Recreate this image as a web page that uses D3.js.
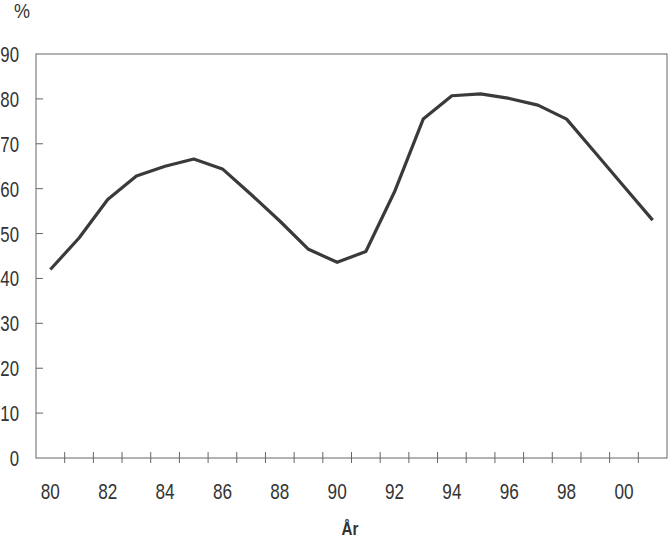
<!DOCTYPE html>
<html><head><meta charset="utf-8">
<script src="https://cdn.jsdelivr.net/npm/d3@7"></script>
<style>
body{margin:0;background:#fff;}
text{font-family:"Liberation Sans",Arial,sans-serif;fill:#333;}
</style></head>
<body><svg id="c" width="669" height="540"></svg>
<script>
const years = ["80","81","82","83","84","85","86","87","88","89","90","91","92","93","94","95","96","97","98","99","00","01"];
const values = [42,49,57.6,62.8,65,66.6,64.4,58.7,52.8,46.5,43.6,46,59.3,75.5,80.7,81.1,80.1,78.6,75.5,68,60.5,53];
const xLabels = ["80","82","84","86","88","90","92","94","96","98","00"];
const yTicks = [0,10,20,30,40,50,60,70,80,90];

const svg = d3.select("#c");
const L=36,R=667,T=54,B=458;
const SX=0.78;
const x = d3.scaleBand().domain(years).range([L,R]).padding(0);
const y = d3.scaleLinear().domain([0,90]).range([B,T]);

// frame
svg.append("rect").attr("x",L).attr("y",T).attr("width",R-L).attr("height",B-T)
  .attr("fill","none").attr("stroke","#666").attr("stroke-width",1);

// y labels (condensed)
svg.append("g").selectAll("g").data(yTicks).join("g")
  .attr("transform",d=>`translate(19,${y(d)+8}) scale(${SX},1)`)
  .append("text").attr("text-anchor","end").attr("font-size",21.5).text(d=>d);

// inner y ticks
svg.append("g").selectAll("line").data(yTicks.filter(d=>d>0&&d<90)).join("line")
  .attr("x1",L).attr("x2",L+7).attr("y1",d=>y(d)).attr("y2",d=>y(d))
  .attr("stroke","#666").attr("stroke-width",1);

// x ticks at band boundaries
const bounds = years.slice(1).map(d=>x(d));
svg.append("g").selectAll("line").data(bounds).join("line")
  .attr("x1",d=>d).attr("x2",d=>d).attr("y1",B-6).attr("y2",B+5)
  .attr("stroke","#666").attr("stroke-width",1);

// x labels
svg.append("g").selectAll("g").data(xLabels).join("g")
  .attr("transform",d=>`translate(${x(d)+x.bandwidth()/2},499) scale(${SX},1)`)
  .append("text").attr("text-anchor","middle").attr("font-size",22).text(d=>d);

// line
const line = d3.line().x((d,i)=>x(years[i])+x.bandwidth()/2).y(d=>y(d));
svg.append("path").datum(values).attr("d",line).attr("fill","none")
  .attr("stroke","#3a3a3a").attr("stroke-width",3.2).attr("stroke-linejoin","round");

// axis titles
svg.append("g").attr("transform",`translate(22,18) scale(0.9,1)`)
  .append("text").attr("text-anchor","middle").attr("font-size",20).text("%");
svg.append("g").attr("transform",`translate(350,535) scale(0.8,1)`)
  .append("text").attr("text-anchor","middle").attr("font-size",19).attr("font-weight","bold").text("År");
</script></body></html>
